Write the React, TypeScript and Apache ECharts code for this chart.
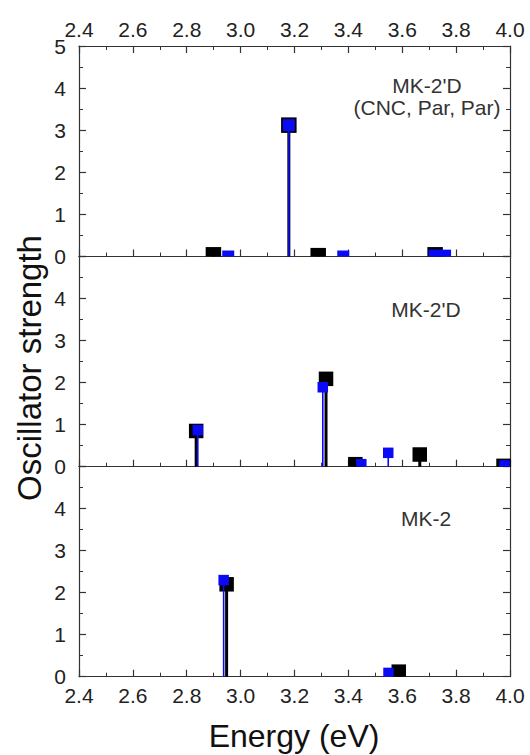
import React, { useEffect, useRef } from "react";
import * as echarts from "echarts";

// Energies (eV) and oscillator strengths
const topBlackX = [2.899, 3.179, 3.288, 3.722];
const topBlackY = [0.04, 3.12, 0.02, 0.04];
const topBlueX = [2.954, 3.179, 3.381, 3.72, 3.759];
const topBlueY = [0.0, 3.12, 0.0, 0.02, 0.02];

const midBlackX = [2.835, 3.317, 3.426, 3.665, 3.976];
const midBlackY = [0.85, 2.09, 0.06, 0.29, 0.02];
const midBlueX = [2.841, 3.305, 3.448, 3.548, 3.98];
const midBlueY = [0.87, 1.89, 0.06, 0.33, 0.03];

const botBlackX = [2.948, 3.587];
const botBlackY = [2.2, 0.12];
const botBlueX = [2.937, 3.549];
const botBlueY = [2.3, 0.09];

const panelLabels = ["MK-2'D\n(CNC, Par, Par)", "MK-2'D", "MK-2"];
const xTitle = "Energy (eV)";
const yTitle = "Oscillator strength";

const FONT = "Liberation Sans, Arial, sans-serif";
const AXIS = "#333";
const LABEL = "#222";

const grids = [
  { top: 46, height: 210.5 },
  { top: 256.5, height: 210.2 },
  { top: 466.7, height: 210 },
];

function pairs(xs: number[], ys: number[]) {
  return xs.map((x, i) => [x, ys[i]]);
}

function stemSeries(axisIndex: number, data: number[][], color: string, size: number, lw: number) {
  return {
    type: "custom",
    xAxisIndex: axisIndex,
    yAxisIndex: axisIndex,
    data,
    renderItem: (params: any, api: any) => {
      const x = api.value(0);
      const y = api.value(1);
      const top = api.coord([x, y]);
      const base = api.coord([x, 0]);
      const y0 = top[1] - size / 2;
      const y1 = Math.min(top[1] + size / 2, base[1]);
      return {
        type: "group",
        children: [
          {
            type: "line",
            shape: { x1: top[0], y1: base[1], x2: top[0], y2: top[1] },
            style: { stroke: color, lineWidth: lw },
          },
          {
            type: "rect",
            shape: { x: top[0] - size / 2, y: y0, width: size, height: Math.max(0, y1 - y0) },
            style: { fill: color },
          },
        ],
      };
    },
  };
}

export default function App() {
  const ref = useRef<HTMLDivElement>(null);
  useEffect(() => {
    if (!ref.current) return;
    const chart = echarts.init(ref.current, null, { renderer: "svg" });
    const xAxes: any[] = [];
    const yAxes: any[] = [];
    const tickStyle = { color: AXIS, width: 1.2 };
    const minorStyle = { color: AXIS, width: 1 };
    grids.forEach((g, i) => {
      xAxes.push({
        type: "value",
        gridIndex: i,
        position: "bottom",
        min: 2.4,
        max: 4.0,
        interval: 0.2,
        axisLine: { show: true, onZero: false, lineStyle: tickStyle },
        axisTick: { show: true, inside: true, length: 7, lineStyle: tickStyle },
        minorTick: { show: true, splitNumber: 2, length: 4, lineStyle: minorStyle },
        splitLine: { show: false },
        axisLabel: {
          show: i === 2,
          margin: 8,
          fontSize: 21,
          color: LABEL,
          fontFamily: FONT,
          formatter: (v: number) => v.toFixed(1),
        },
      });
      xAxes.push({
        type: "value",
        gridIndex: i,
        position: "top",
        min: 2.4,
        max: 4.0,
        interval: 0.2,
        axisLine: { show: true, onZero: false, lineStyle: tickStyle },
        axisTick: { show: i === 0, inside: true, length: 7, lineStyle: tickStyle },
        minorTick: { show: i === 0, splitNumber: 2, length: 4, lineStyle: minorStyle },
        splitLine: { show: false },
        axisLabel: {
          show: i === 0,
          margin: 6,
          fontSize: 21,
          color: LABEL,
          fontFamily: FONT,
          formatter: (v: number) => v.toFixed(1),
        },
      });
      yAxes.push({
        type: "value",
        gridIndex: i,
        position: "left",
        min: 0,
        max: 5,
        interval: 1,
        axisLine: { show: true, onZero: false, lineStyle: tickStyle },
        axisTick: { show: true, inside: true, length: 7, lineStyle: tickStyle },
        minorTick: { show: true, splitNumber: 2, length: 4, lineStyle: minorStyle },
        splitLine: { show: false },
        axisLabel: {
          show: true,
          margin: 13,
          fontSize: 21,
          color: LABEL,
          fontFamily: FONT,
          showMaxLabel: i === 0,
          formatter: (v: number) => (i !== 0 && v === 5 ? "" : String(v)),
        },
      });
      yAxes.push({
        type: "value",
        gridIndex: i,
        position: "right",
        min: 0,
        max: 5,
        interval: 1,
        axisLine: { show: true, onZero: false, lineStyle: tickStyle },
        axisTick: { show: true, inside: true, length: 7, lineStyle: tickStyle },
        minorTick: { show: true, splitNumber: 2, length: 4, lineStyle: minorStyle },
        splitLine: { show: false },
        axisLabel: { show: false },
      });
    });

    const blackSets = [pairs(topBlackX, topBlackY), pairs(midBlackX, midBlackY), pairs(botBlackX, botBlackY)];
    const blueSets = [pairs(topBlueX, topBlueY), pairs(midBlueX, midBlueY), pairs(botBlueX, botBlueY)];

    const series: any[] = [];
    grids.forEach((_, i) => {
      series.push(stemSeries(i * 2, blackSets[i], "#000000", i === 0 ? 15.5 : 14.5, 3));
      series.push(stemSeries(i * 2, blueSets[i], "#0a0af5", i === 0 ? 12 : 10.5, 1.6));
    });

    const label = (text: string, x: number, y: number) => ({
      type: "text",
      x,
      y,
      style: {
        text,
        font: `21px ${FONT}`,
        lineHeight: 22,
        fill: "#333",
        align: "center",
        verticalAlign: "middle",
      },
    });

    chart.setOption({
      animation: false,
      backgroundColor: "#ffffff",
      grid: grids.map((g) => ({ left: 79, right: 20, top: g.top, height: g.height })),
      xAxis: xAxes,
      yAxis: yAxes,
      series,
      graphic: [
        label(panelLabels[0], 427, 96),
        label(panelLabels[1], 426, 309),
        label(panelLabels[2], 426, 518),
        {
          type: "text",
          x: 294,
          y: 736,
          style: { text: xTitle, font: `32px ${FONT}`, fill: "#111", align: "center", verticalAlign: "middle" },
        },
        {
          type: "text",
          x: 29,
          y: 368,
          rotation: Math.PI / 2,
          style: { text: yTitle, font: `33px ${FONT}`, fill: "#111", align: "center", verticalAlign: "middle" },
        },
      ],
    });
    return () => chart.dispose();
  }, []);
  return (
    <div
      ref={ref}
      style={{ position: "fixed", left: 0, top: 0, width: 530, height: 755, background: "#fff" }}
    />
  );
}
